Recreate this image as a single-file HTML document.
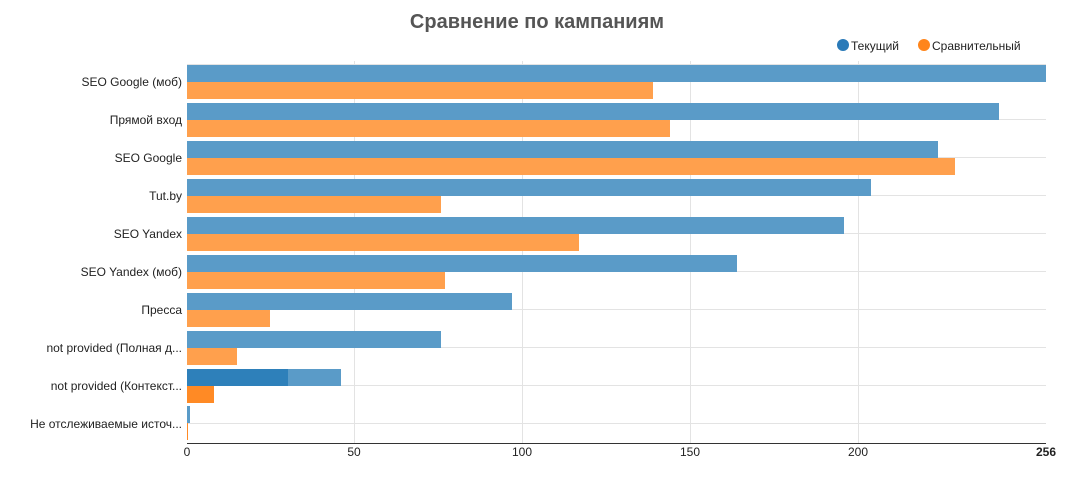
<!DOCTYPE html>
<html><head><meta charset="utf-8"><style>
body{margin:0;background:#fff;font-family:"Liberation Sans",Arial,sans-serif;}
</style></head><body>
<svg width="1075" height="477" xmlns="http://www.w3.org/2000/svg" font-family="Liberation Sans, Arial, sans-serif">
<text x="537" y="28" text-anchor="middle" font-size="20" font-weight="bold" fill="#555">Сравнение по кампаниям</text>
<circle cx="843" cy="45" r="6" fill="#2a7ab8"/><text x="851" y="50" font-size="12" fill="#222">Текущий</text>
<circle cx="924" cy="45" r="6" fill="#ff851b"/><text x="932" y="50" font-size="12" fill="#222">Сравнительный</text>
<g stroke="#e3e3e3" stroke-width="1">
<line x1="354.5" y1="61" x2="354.5" y2="443"/><line x1="522.5" y1="61" x2="522.5" y2="443"/>
<line x1="690.5" y1="61" x2="690.5" y2="443"/><line x1="858.5" y1="61" x2="858.5" y2="443"/>
<line x1="187" y1="64.5" x2="1046" y2="64.5"/>
<line x1="187" y1="119.5" x2="1046" y2="119.5"/><line x1="187" y1="157.5" x2="1046" y2="157.5"/>
<line x1="187" y1="195.5" x2="1046" y2="195.5"/><line x1="187" y1="233.5" x2="1046" y2="233.5"/>
<line x1="187" y1="271.5" x2="1046" y2="271.5"/><line x1="187" y1="309.5" x2="1046" y2="309.5"/>
<line x1="187" y1="347.5" x2="1046" y2="347.5"/><line x1="187" y1="385.5" x2="1046" y2="385.5"/>
<line x1="187" y1="423.5" x2="1046" y2="423.5"/>
</g>
<g fill="#5a9bc8">
<rect x="187" y="65" width="859" height="17"/>
<rect x="187" y="103" width="812" height="17"/>
<rect x="187" y="141" width="751" height="17"/>
<rect x="187" y="179" width="684" height="17"/>
<rect x="187" y="217" width="657" height="17"/>
<rect x="187" y="255" width="550" height="17"/>
<rect x="187" y="293" width="325" height="17"/>
<rect x="187" y="331" width="254" height="17"/>
<rect x="187" y="369" width="154" height="17"/>
<rect x="187" y="406" width="3" height="17"/>
</g>
<rect x="187" y="369" width="101" height="17" fill="#2e80ba"/>
<g fill="#ffa04d">
<rect x="187" y="82" width="466" height="17"/>
<rect x="187" y="120" width="483" height="17"/>
<rect x="187" y="158" width="768" height="17"/>
<rect x="187" y="196" width="254" height="17"/>
<rect x="187" y="234" width="392" height="17"/>
<rect x="187" y="272" width="258" height="17"/>
<rect x="187" y="310" width="83" height="17"/>
<rect x="187" y="348" width="50" height="17"/>
</g>
<rect x="187" y="386" width="27" height="17" fill="#ff8a25"/>
<rect x="187" y="423" width="1" height="17" fill="#ff8a25"/>
<line x1="187" y1="443.5" x2="1046" y2="443.5" stroke="#333" stroke-width="1"/>
<g font-size="12" fill="#222" text-anchor="end">
<text x="182" y="86">SEO Google (моб)</text>
<text x="182" y="124">Прямой вход</text>
<text x="182" y="162">SEO Google</text>
<text x="182" y="200">Tut.by</text>
<text x="182" y="238">SEO Yandex</text>
<text x="182" y="276">SEO Yandex (моб)</text>
<text x="182" y="314">Пресса</text>
<text x="182" y="352">not provided (Полная д...</text>
<text x="182" y="390">not provided (Контекст...</text>
<text x="182" y="428">Не отслеживаемые источ...</text>
</g>
<g font-size="12" fill="#222" text-anchor="middle">
<text x="187" y="456">0</text><text x="354" y="456">50</text><text x="522" y="456">100</text>
<text x="690" y="456">150</text><text x="858" y="456">200</text>
<text x="1046" y="456" font-weight="bold">256</text>
</g>
</svg>
</body></html>
